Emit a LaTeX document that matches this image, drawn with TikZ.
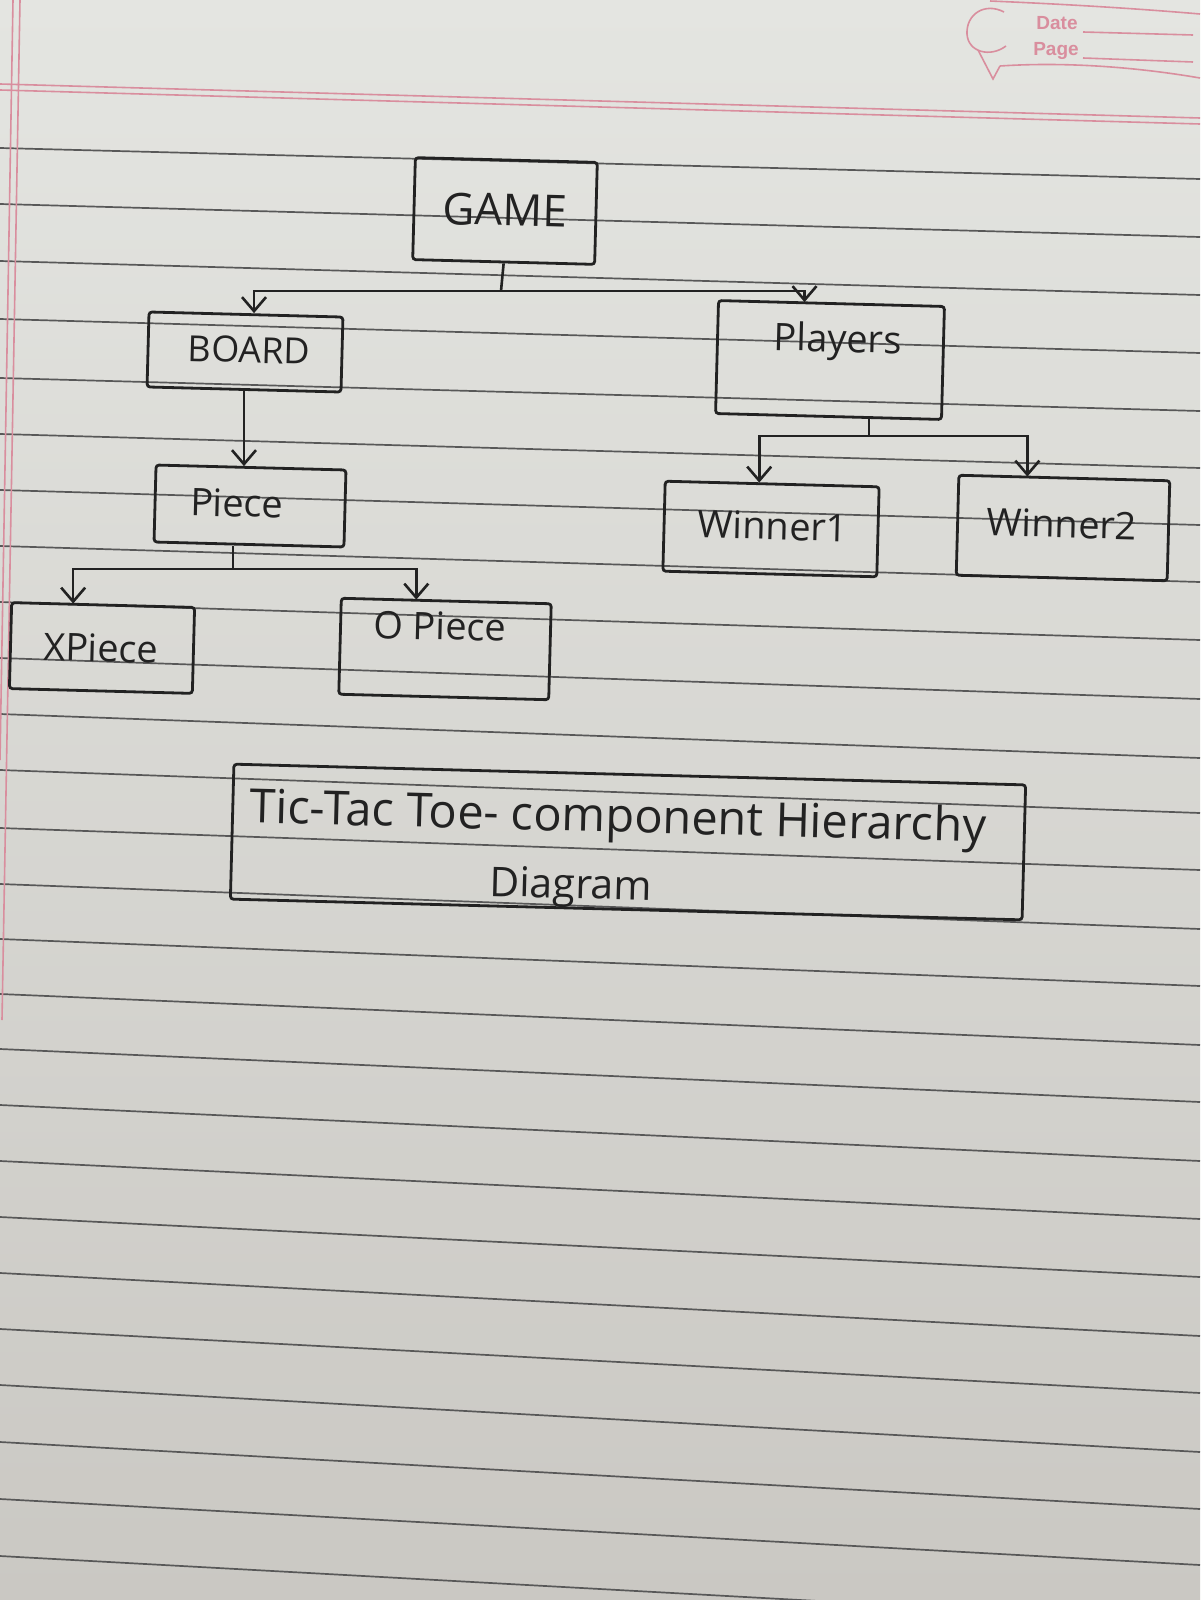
\documentclass[tikz,border=0pt]{standalone}
\usepackage{fontspec}
\setmainfont{Open Sans}
\newfontfamily\printfont{Liberation Sans}
\usetikzlibrary{arrows.meta,calc}
\definecolor{ink}{HTML}{222222}
\definecolor{ruleline}{HTML}{585858}
\definecolor{pinkline}{HTML}{D98E9E}
\definecolor{papertop}{HTML}{E4E5E1}
\definecolor{paperbot}{HTML}{CAC8C3}
\begin{document}
\begin{tikzpicture}[x=1pt,y=-1pt,
  box/.style={draw=ink,line width=2.8pt,rounded corners=3pt,rotate=-1.5,inner sep=0pt},
  lbl/.style={text=ink,font=\fontsize{38}{46}\selectfont,rotate=-1.5,inner sep=0pt},
  conn/.style={draw=ink,line width=2.6pt},
  arr/.style={conn,-{Straight Barb[length=14pt,width=24pt]}},
  ruling/.style={draw=ruleline,line width=1.7pt},
  pinkrule/.style={draw=pinkline,line width=1.6pt},
  printed/.style={text=pinkline,font=\printfont\bfseries\fontsize{19}{22}\selectfont,inner sep=0pt}]
\useasboundingbox (0,0) rectangle (1200,1600);
% paper
\shade[top color=papertop,bottom color=paperbot] (0,0) rectangle (1200,1600);
% ruled lines
\foreach \l/\r in {148/179,204/237,261/295,319/353,378/411,434/468,490/525,546/582,602/640,658/699,714/758,770/813,828/870,884/929,939/986,994/1045,1049/1102,1105/1161,1161/1219,1217/1277,1273/1336,1329/1393,1385/1452,1442/1509,1499/1565,1556/1622}
  \draw[ruling] (0,\l) -- (1200,\r);
% pink header and margin lines
\draw[pinkrule] (0,84) -- (1200,118);
\draw[pinkrule] (0,90) -- (1200,124);
\draw[pinkrule] (13,0) -- (0,760);
\draw[pinkrule] (20,0) -- (2,1020);
% Date / Page logo
\draw[pinkrule] (1004,12) .. controls (985,2) and (966,14) .. (967,34) .. controls (968,52) and (990,58) .. (1006,46);
\draw[pinkrule] (978,50) -- (993,79) -- (1000,66);
\draw[pinkrule] (1000,66) .. controls (1060,62) and (1130,66) .. (1200,78);
\draw[pinkrule] (990,1) .. controls (1060,4) and (1130,8) .. (1200,14);
\node[printed] (date) at (1057,23) {Date};
\node[printed] (page) at (1056,51) {Page};
\draw[pinkrule] (1083,32) -- (1193,35);
\draw[pinkrule] (1083,58) -- (1193,62);

% boxes
\node[box,minimum width=182pt,minimum height=102pt] (game) at (505,211) {};
\node[box,minimum width=194pt,minimum height=75pt] (board) at (245,352) {};
\node[box,minimum width=226pt,minimum height=113pt] (players) at (830,360) {};
\node[box,minimum width=190pt,minimum height=77pt] (piece) at (250,506) {};
\node[box,minimum width=183pt,minimum height=86pt] (xpiece) at (102,648) {};
\node[box,minimum width=210pt,minimum height=96pt] (opiece) at (445,649) {};
\node[box,minimum width=214pt,minimum height=90pt] (win1) at (771,529) {};
\node[box,minimum width=211pt,minimum height=100pt] (win2) at (1063,528) {};
\node[box,minimum width=792pt,minimum height=135pt] (title) at (628,842) {};

% labels
\node[lbl,font=\fontsize{44}{50}\selectfont] (gameL) at (505,210) {GAME};
\node[lbl,font=\fontsize{36}{42}\selectfont] (boardL) at (249,350) {BOARD};
\node[lbl] (playersL) at (838,342) {Players};
\node[lbl] (pieceL) at (237,503) {Piece};
\node[lbl] (win1L) at (773,526) {Winner1};
\node[lbl] (win2L) at (1062,524) {Winner2};
\node[lbl] (xpieceL) at (101,648) {XPiece};
\node[lbl] (opieceL) at (440,626) {O Piece};
\node[lbl,font=\fontsize{47}{54}\selectfont] (titleA) at (618,820) {Tic-Tac Toe- component Hierarchy};
\node[lbl,font=\fontsize{41}{48}\selectfont] (titleB) at (571,888) {Diagram};

% connectors
\coordinate (busG) at (501,291);
\draw[conn] (game.south) -- (busG);
\draw[arr] (busG) -| ([xshift=8pt]board.north);
\draw[arr] (busG) -| ([xshift=-27pt]players.north);

\draw[arr] (board.south) -- (board.south |- piece.north);

\coordinate (busP) at (233,569);
\draw[conn] (busP |- piece.south) -- (busP);
\draw[arr] (busP) -| ([xshift=-30pt]xpiece.north);
\draw[arr] (busP) -| ([xshift=-30pt]opiece.north);

\coordinate (busW) at (869,436);
\draw[conn] (busW |- players.south) -- (busW);
\draw[arr] (busW) -| ([xshift=-13pt]win1.north);
\draw[arr] (busW) -| ([xshift=-37pt]win2.north);
\end{tikzpicture}
\end{document}
